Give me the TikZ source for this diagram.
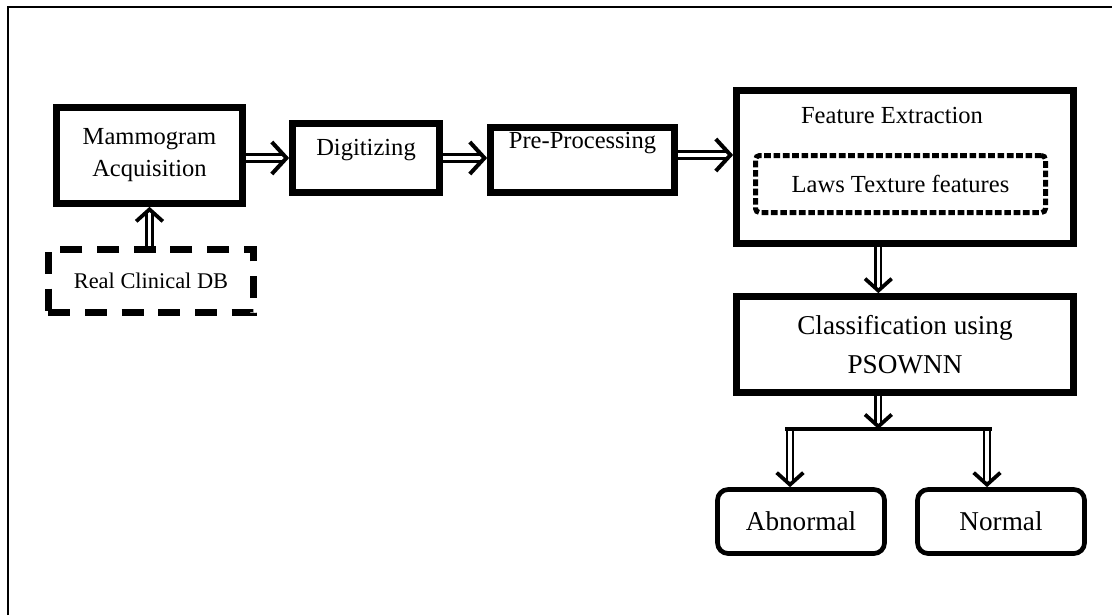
\documentclass[tikz,border=0pt]{standalone}
\usepackage{fontspec}
\setmainfont{Liberation Serif}
\usetikzlibrary{arrows.meta, positioning, calc}

\begin{document}
\begin{tikzpicture}[
    x=0.75pt, y=-0.75pt,
    procbox/.style={draw, line width=5pt, align=center, inner sep=3pt,
        font=\fontsize{18.4}{24}\selectfont},
    dbbox/.style={draw, line width=5pt, dash pattern=on 16.5pt off 11pt,
        font=\fontsize{16.8}{20}\selectfont},
    lawsbox/.style={draw, line width=3.75pt, dash pattern=on 5pt off 2pt,
        rounded corners=3pt, font=\fontsize{18.4}{22}\selectfont},
    outbox/.style={draw, line width=3.5pt, rounded corners=8pt,
        font=\fontsize{20.4}{24}\selectfont},
    flow/.style={double, double distance=3pt, line width=2pt,
        -{Straight Barb[length=11pt, width=24pt, line width=3pt]}},
    vflow/.style={double, double distance=2.5pt, line width=1.8pt,
        -{Straight Barb[length=9pt, width=20pt, line width=2.8pt]}},
    bar/.style={line width=3pt}
]
\useasboundingbox (0,0) rectangle (1112,615);
% --- frame (only top and left edges are visible) ---
\draw[line width=2pt] (8,615) -- (8,7) -- (1112,7);

% --- acquisition chain ---
\node[procbox, minimum width=139.5pt, minimum height=72pt] (mammo) at (149.5,155.5) {Mammogram\\Acquisition};
\node[dbbox, minimum width=154pt, minimum height=47.5pt] (db) at (151,281) {Real Clinical DB};
\node[procbox, minimum width=110.25pt, minimum height=51.75pt, text depth=16pt] (digi) at (366,158) {Digitizing};
\node[procbox, minimum width=138pt, minimum height=48.75pt, text depth=29pt] (pre) at (582.5,160) {Pre-Processing};

% --- feature extraction ---
\node[procbox, minimum width=252.75pt, minimum height=114.75pt,
    label={[font=\fontsize{18.4}{22}\selectfont, anchor=north, yshift=-11.5pt, xshift=-9.75pt]north:Feature Extraction}] (fe) at (905,167) {};
\node[lawsbox, minimum width=217.5pt, minimum height=42.75pt] (laws) at (900.5,184) {Laws Texture features};

% --- classification and outputs ---
\node[procbox, minimum width=252.75pt, minimum height=72pt, font=\fontsize{20.4}{29}\selectfont] (cls) at (905,344.5) {Classification using\\PSOWNN};
\node[outbox, minimum width=125.25pt, minimum height=48pt] (abn) at (801,521.5) {Abnormal};
\node[outbox, minimum width=125.25pt, minimum height=48pt] (nrm) at (1001,521.5) {Normal};

\coordinate (split) at (878,429);
\coordinate (brA) at (790,429);
\coordinate (brN) at (987,429);

% --- arrows ---
\draw[vflow] (db.north -| mammo) -- (mammo.south);
\draw[flow] (mammo.east |- digi) -- (digi.west);
\draw[flow] (digi.east) -- (digi.east -| pre.west);
\draw[flow] ([yshift=3.75pt]pre.east) -- ([yshift=3.75pt]pre.east -| fe.west);
\draw[vflow] ([xshift=-20pt]fe.south) -- ([xshift=-20pt]cls.north);
\draw[vflow] ([xshift=-20pt]cls.south) -- ([xshift=-20pt]cls.south |- split);
\draw[vflow] (brA) -- (brA |- abn.north);
\draw[vflow] (brN) -- (brN |- nrm.north);
\draw[bar] ([xshift=-3.5pt]brA) -- ([xshift=3.5pt]brN);

\end{tikzpicture}
\end{document}
